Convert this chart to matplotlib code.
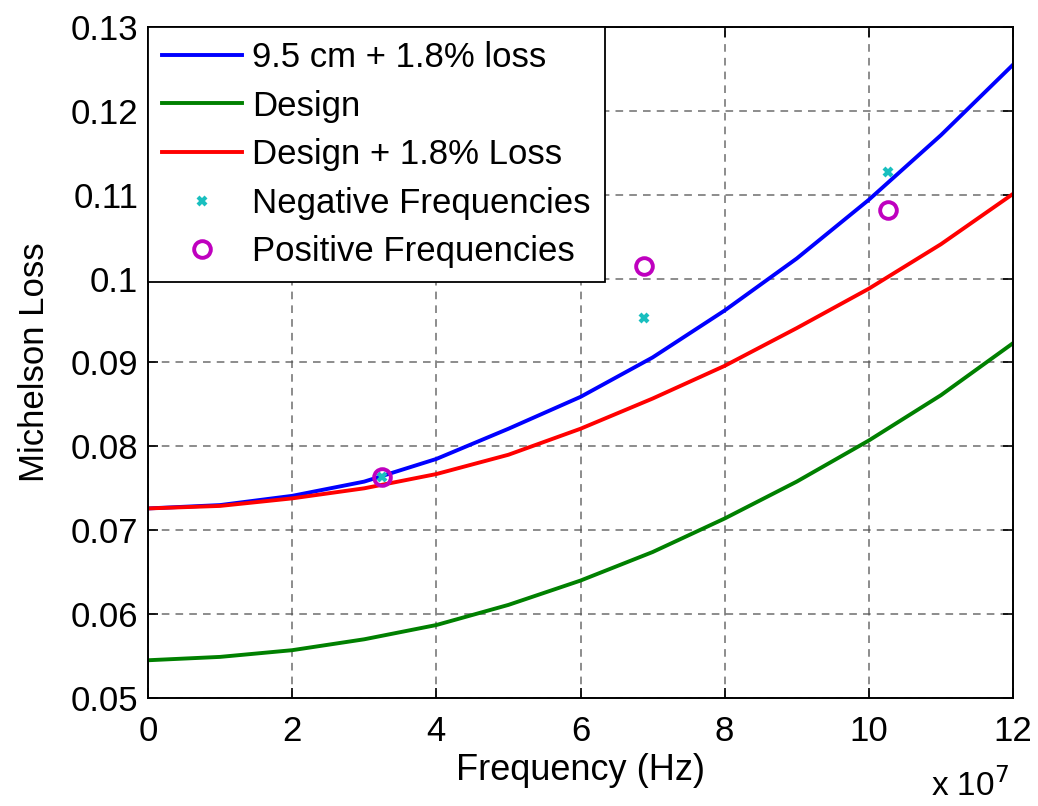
import numpy as np
import matplotlib
matplotlib.use("Agg")
import matplotlib.pyplot as plt
from matplotlib.ticker import FuncFormatter

plt.rcParams['font.family'] = ['Liberation Sans', 'DejaVu Sans']

# frequency samples (Hz)
freq = np.array([0, 1, 2, 3, 4, 5, 6, 7, 8, 9, 10, 11, 12]) * 1e7

loss_95cm = [0.0726, 0.0730, 0.0741, 0.0758, 0.0785, 0.0821, 0.0859,
             0.0906, 0.0962, 0.1024, 0.1094, 0.1171, 0.1255]
loss_design = [0.0545, 0.0549, 0.0557, 0.0570, 0.0587, 0.0611, 0.0640,
               0.0674, 0.0714, 0.0758, 0.0807, 0.0861, 0.0923]
loss_design_18 = [0.0726, 0.0729, 0.0738, 0.0750, 0.0767, 0.0790, 0.0821,
                  0.0857, 0.0896, 0.0941, 0.0988, 0.1041, 0.1101]

meas_freq = np.array([3.25, 6.88, 10.27]) * 1e7
neg_freq_loss = [0.0763, 0.0953, 0.1127]
pos_freq_loss = [0.0764, 0.1015, 0.1082]

fig = plt.figure(figsize=(10.38, 8.06), dpi=100)
ax = fig.add_axes([0.1426, 0.134, 0.9759 - 0.1426, 0.9665 - 0.134])

ax.plot(freq, loss_95cm, color='#0000ff', lw=2.8, label='9.5 cm + 1.8% loss')
ax.plot(freq, loss_design, color='#008000', lw=2.8, label='Design')
ax.plot(freq, loss_design_18, color='#ff0000', lw=2.8, label='Design + 1.8% Loss')
ax.plot(meas_freq, neg_freq_loss, 'x', color='#19bfbf', ms=6, mew=3,
        label='Negative Frequencies')
ax.plot(meas_freq, pos_freq_loss, 'o', color='#bf00bf', mfc='none', ms=12,
        mew=2.8, label='Positive Frequencies')

ax.set_xlim(0, 12e7)
ax.set_ylim(0.05, 0.13)
ax.set_xticks(np.arange(0, 13e7, 2e7))
ax.set_yticks(np.arange(0.05, 0.1301, 0.01))
ax.xaxis.set_major_formatter(FuncFormatter(lambda v, p: '%g' % round(v / 1e7, 6)))
ax.yaxis.set_major_formatter(FuncFormatter(lambda v, p: '%g' % round(v, 4)))

ax.grid(True, linestyle=(0, (5, 4)), color='#555555', lw=1.1, alpha=0.85)
ax.tick_params(direction='in', length=7, width=1.2, labelsize=25,
               top=True, right=True)
ax.tick_params(axis='x', pad=12)
ax.tick_params(axis='y', pad=7)
for s in ax.spines.values():
    s.set_linewidth(1.4)

ax.set_xlabel('Frequency (Hz)', fontsize=26, labelpad=4)
ax.set_ylabel('Michelson Loss', fontsize=25, labelpad=14)
fig.text(0.897, 0.012, r'x 10$^7$', fontsize=24)

leg = ax.legend(loc='upper left', fontsize=25, fancybox=False, borderaxespad=0,
                edgecolor='black', framealpha=1, handlelength=2.3,
                handletextpad=0.3, labelspacing=0.45, borderpad=0.4)
leg.get_frame().set_linewidth(1.3)

fig.savefig('out.png', dpi=100)
